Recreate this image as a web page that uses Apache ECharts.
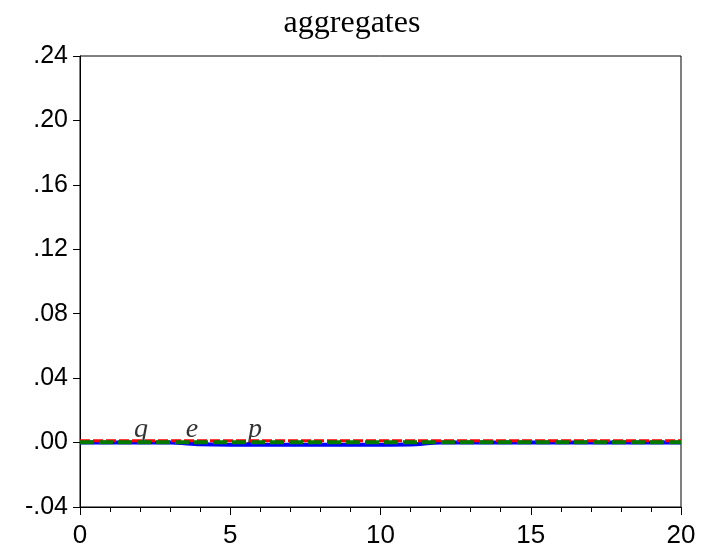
<!DOCTYPE html>
<html><head><meta charset="utf-8">
<script src="https://cdn.jsdelivr.net/npm/echarts@6/dist/echarts.min.js"></script>
<style>html,body{margin:0;padding:0;background:#fff}#c{width:704px;height:559px}</style>
</head><body><div id="c"></div>
<script>
const periods = [0,1,2,3,4,5,6,7,8,9,10,11,12,13,14,15,16,17,18,19,20];
const qValues = [0,0.0001,0.0001,0,-0.0010,-0.0013,-0.0013,-0.0013,-0.0013,-0.0013,-0.0013,-0.0012,0,0,0,0,0,0,0,0,0];
const eValues = [0.0012,0.0012,0.0012,0.0012,0.0012,0.0012,0.0012,0.0012,0.0012,0.0012,0.0012,0.0012,0.0012,0.0012,0.0012,0.0012,0.0012,0.0012,0.0012,0.0012,0.0012];
const pValues = [0.0002,0.0002,0.0002,0.0002,0.0002,0.0002,0.0002,0.0002,0.0002,0.0002,0.0002,0.0002,0.0002,0.0002,0.0002,0.0002,0.0002,0.0002,0.0002,0.0002,0.0002];
const labelNames = ['q','e','p'];
const labelX = [2.03,3.73,5.82];
const labelY = [0.0081,0.0081,0.0081];

const chart = echarts.init(document.getElementById('c'));
const pair = (xs, ys) => xs.map((x,i)=>[x,ys[i]]);
chart.setOption({
  animation:false,
  backgroundColor:'#fff',
  title:{text:'aggregates',left:'center',top:3,textStyle:{fontFamily:'Liberation Serif',fontWeight:'normal',fontSize:32,color:'#000'}},
  grid:{left:80,right:23,top:56,bottom:52,show:true,borderColor:'#000',borderWidth:1},
  xAxis:{type:'value',min:0,max:20,interval:5,
    axisLine:{show:true,onZero:false,lineStyle:{color:'#000'}},
    axisTick:{show:true,inside:false,length:8,lineStyle:{color:'#000'}},
    minorTick:{show:true,splitNumber:5,length:5,lineStyle:{color:'#000'}},
    splitLine:{show:false},
    axisLabel:{fontFamily:'Liberation Sans',fontSize:26,color:'#000',margin:16}},
  yAxis:{type:'value',min:-0.04,max:0.24,interval:0.04,
    axisLine:{show:true,lineStyle:{color:'#000'}},
    axisTick:{show:true,inside:false,length:7,lineStyle:{color:'#000'}},
    splitLine:{show:false},
    axisLabel:{fontFamily:'Liberation Sans',fontSize:25,color:'#000',margin:12,
      formatter:v=>{const s=v.toFixed(2);return s.replace(/^(-?)0\./,'$1.');}}},
  series:[
    {type:'line',data:pair(periods,qValues),showSymbol:false,smooth:0.3,lineStyle:{color:'#0000ff',width:4}},
    {type:'line',data:pair(periods,eValues),showSymbol:false,lineStyle:{color:'#ff0000',width:3,type:[10,3]}},
    {type:'line',data:pair(periods,pValues),showSymbol:false,lineStyle:{color:'#007a00',width:4,type:[14,5]}},
    {type:'scatter',symbolSize:0,data:labelNames.map((n,i)=>({value:[labelX[i],labelY[i]],name:n})),
      label:{show:true,position:'inside',formatter:p=>p.name,fontFamily:'Liberation Serif',fontStyle:'italic',fontSize:28,color:'#000'},silent:true}
  ]
});
</script></body></html>
